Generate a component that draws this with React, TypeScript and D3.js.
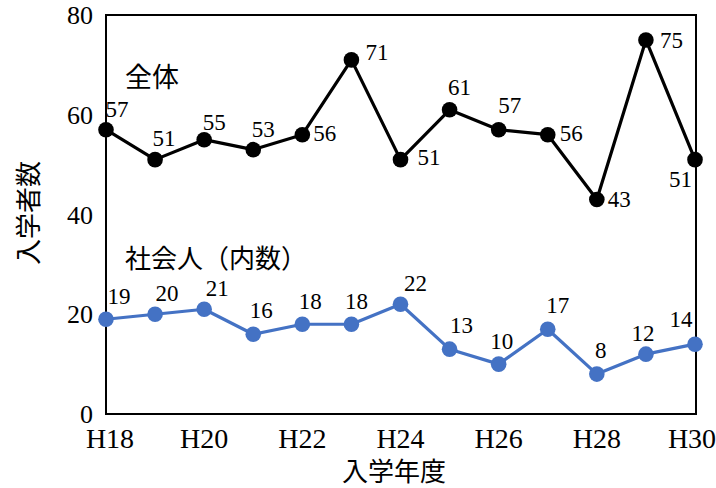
import * as d3 from "d3"

const years = ["H18", "H19", "H20", "H21", "H22", "H23", "H24", "H25", "H26", "H27", "H28", "H29", "H30"]
const totalValues = [57, 51, 55, 53, 56, 71, 51, 61, 57, 56, 43, 75, 51]
const workerValues = [19, 20, 21, 16, 18, 18, 22, 13, 10, 17, 8, 12, 14]
const yTicks = [0, 20, 40, 60, 80]

// data-label nudges relative to each point: [dx, dy, anchor]
const totalLabelNudge: [number, number, string][] = [
  [11, -13, "middle"], [9, -14, "middle"], [10, -10, "middle"], [10, -13, "middle"],
  [11, 6, "start"], [14, 0, "start"], [17, 5, "start"], [10, -15, "middle"],
  [11, -17, "middle"], [12, 6, "start"], [11, 7, "start"], [14, 8, "start"], [-3, 27, "end"],
]
const workerLabelNudge: [number, number, string][] = [
  [13, -15, "middle"], [12, -13, "middle"], [13, -13, "middle"], [8, -16, "middle"],
  [8, -15, "middle"], [5, -15, "middle"], [15, -13, "middle"], [12, -16, "middle"],
  [3, -15, "middle"], [10, -16, "middle"], [4, -16, "middle"], [-3, -13, "middle"], [-14, -17, "middle"],
]

const W = 716
const H = 488
const margin = { top: 15, right: 21, bottom: 74, left: 106 }
const serif = "'Liberation Serif', 'Times New Roman', serif"
const jp = "'Noto Sans CJK JP', sans-serif"
const BLUE = "#4472C4"

export default function App() {
  const x = d3.scaleLinear().domain([0, years.length - 1]).range([margin.left, W - margin.right])
  const y = d3.scaleLinear().domain([0, 80]).range([H - margin.bottom, margin.top])
  const line = d3.line<number>().x((_, i) => x(i)).y((d) => y(d))

  const series = [
    { values: totalValues, color: "#000", nudge: totalLabelNudge },
    { values: workerValues, color: BLUE, nudge: workerLabelNudge },
  ]

  return (
    <svg width={W} height={H} style={{ position: "absolute", left: 0, top: 0, background: "#fff" }}>
      <rect x={x(0)} y={y(80)} width={x(years.length - 1) - x(0) + 1} height={y(0) - y(80)}
        fill="none" stroke="#000" strokeWidth={2} />

      {yTicks.map((t) => (
        <text key={t} x={margin.left - 13} y={y(t) + 9} textAnchor="end" fontFamily={serif} fontSize={26}>{t}</text>
      ))}
      {years.map((yr, i) => i % 2 === 0 && (
        <text key={yr} x={Math.min(Math.max(x(i), 110), 692)} y={y(0) + 34} textAnchor="middle"
          fontFamily={serif} fontSize={28}>{yr}</text>
      ))}

      <text x={394} y={481} textAnchor="middle" fontFamily={jp} fontSize={26}>入学年度</text>
      <text transform={`translate(38, 213) rotate(-90)`} textAnchor="middle" fontFamily={jp} fontSize={26}>入学者数</text>

      {series.map((s, si) => (
        <g key={si}>
          <path d={line(s.values) || ""} fill="none" stroke={s.color} strokeWidth={3.2} strokeLinejoin="round" />
          {s.values.map((v, i) => (
            <circle key={i} cx={x(i)} cy={y(v)} r={7.8} fill={s.color} />
          ))}
          {s.values.map((v, i) => {
            const [dx, dy, anchor] = s.nudge[i]
            return (
              <text key={"l" + i} x={x(i) + dx} y={y(v) + dy} textAnchor={anchor}
                fontFamily={serif} fontSize={23}>{v}</text>
            )
          })}
        </g>
      ))}

      <text x={125} y={87} fontFamily={jp} fontSize={27}>全体</text>
      <text x={125} y={268} fontFamily={jp} fontSize={26}>社会人（内数）</text>
    </svg>
  )
}
